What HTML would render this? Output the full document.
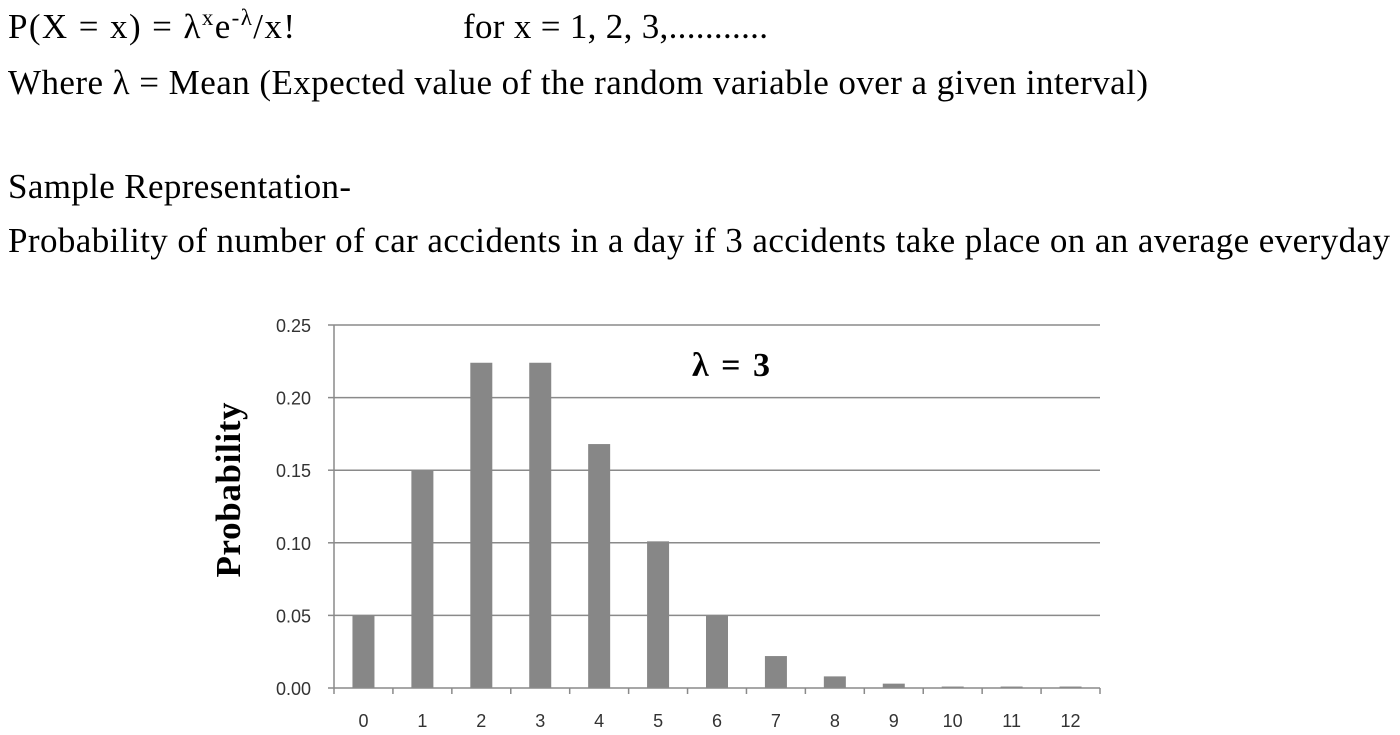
<!DOCTYPE html>
<html><head><meta charset="utf-8"><style>
html,body{margin:0;padding:0;background:#fff;}
svg{display:block;}
</style></head><body>
<svg id="chart" width="1400" height="735" viewBox="0 0 1400 735" xmlns="http://www.w3.org/2000/svg">
<g font-family="'Liberation Serif', serif" font-size="35" fill="#000">
<text x="8" y="38" textLength="287" lengthAdjust="spacing">P(X = x) = λ<tspan font-size="23" dy="-13">x</tspan><tspan dy="13">e</tspan><tspan font-size="23" dy="-13">-λ</tspan><tspan dy="13">/x!</tspan></text>
<text x="463" y="38" textLength="305" lengthAdjust="spacing">for x = 1, 2, 3,...........</text>
<text x="8" y="94" textLength="1140" lengthAdjust="spacing">Where λ = Mean (Expected value of the random variable over a given interval)</text>
<text x="8" y="198" textLength="343" lengthAdjust="spacing">Sample Representation-</text>
<text x="8" y="252" textLength="1382" lengthAdjust="spacing">Probability of number of car accidents in a day if 3 accidents take place on an average everyday</text>
</g>
<g id="grid"></g>
<g id="bars"></g>
<g id="axes"></g>
<text transform="translate(240,490) rotate(-90)" text-anchor="middle" font-family="'Liberation Serif', serif" font-weight="bold" font-size="35" textLength="175" lengthAdjust="spacing">Probability</text>
<text x="692" y="376" font-family="'Liberation Serif', serif" font-weight="bold" font-size="34" textLength="78" lengthAdjust="spacing">λ = 3</text>
</svg>
<script>
const categories = ["0","1","2","3","4","5","6","7","8","9","10","11","12"];
const probabilities = [0.050, 0.150, 0.224, 0.224, 0.168, 0.101, 0.050, 0.022, 0.008, 0.003, 0.001, 0.001, 0.001];
const yTicks = [0, 0.05, 0.10, 0.15, 0.20, 0.25];
const yTickLabels = ["0.00","0.05","0.10","0.15","0.20","0.25"];

const NS = "http://www.w3.org/2000/svg";
const x0 = 334, x1 = 1100, yTop = 325, yBot = 688, yMax = 0.25;
const step = (x1 - x0) / categories.length;
const yScale = v => yBot - (v / yMax) * (yBot - yTop);
const xCenter = i => x0 + step * (i + 0.5);
function mk(tag, attrs, parent){const e=document.createElementNS(NS,tag);for(const k in attrs)e.setAttribute(k,attrs[k]);parent.appendChild(e);return e;}
const grid=document.getElementById('grid'), bars=document.getElementById('bars'), axes=document.getElementById('axes');
yTicks.forEach((t,i)=>{
  const y=yScale(t);
  if(t>0){const g=mk('line',{x1:x0,x2:x1,y1:y,y2:y,stroke:'#8a8a8a','stroke-width':1.5},grid);
  
  }
  const tk=mk('line',{x1:x0-6,x2:x0,y1:y,y2:y,stroke:'#8a8a8a','stroke-width':1.5},axes);
  
  
  const lb=mk('text',{x:311,y:y+7,'text-anchor':'end','font-family':"'Liberation Sans', sans-serif",'font-size':18,fill:'#333'},axes);
  lb.textContent=yTickLabels[i];
  
  
});
probabilities.forEach((v,i)=>{
  const w=22, y=yScale(v);
  const r=mk('rect',{x:xCenter(i)-w/2,y:y,width:w,height:yBot-y,fill:'#878787'},bars);
  
  
  const lb=mk('text',{x:xCenter(i),y:727,'text-anchor':'middle','font-family':"'Liberation Sans', sans-serif",'font-size':18,fill:'#333'},axes);
  lb.textContent=categories[i];
  
  
});
for(let i=0;i<=categories.length;i++){
  const x=x0+step*i;
  const tk=mk('line',{x1:x,x2:x,y1:yBot,y2:yBot+6,stroke:'#8a8a8a','stroke-width':1.5},axes);
  
  
}
const ya=mk('line',{x1:x0,x2:x0,y1:yTop,y2:yBot,stroke:'#8a8a8a','stroke-width':1.5},axes);


const xa=mk('line',{x1:x0,x2:x1,y1:yBot,y2:yBot,stroke:'#8a8a8a','stroke-width':1.5},axes);


</script>
</body></html>
